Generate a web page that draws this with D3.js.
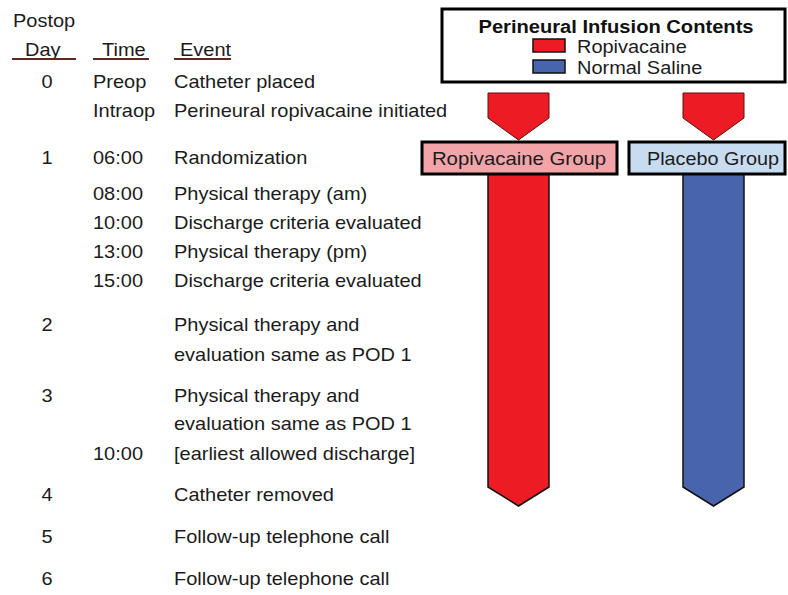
<!DOCTYPE html>
<html>
<head>
<meta charset="utf-8">
<script src="https://cdn.jsdelivr.net/npm/d3@7/dist/d3.min.js"></script>
<style>
  html, body { margin: 0; padding: 0; background: #fff; }
  text { font-family: "Liberation Sans", Arial, sans-serif; }
</style>
</head>
<body>
<svg id="chart" width="788" height="595"></svg>
<script>
// ---------------- DATA ----------------
const headerLabels = ["Day", "Time", "Event"];
const headerTop = "Postop";
const dayLabels   = ["0", "", "1", "", "", "", "", "2", "", "3", "", "", "4", "5", "6"];
const timeLabels  = ["Preop", "Intraop", "06:00", "08:00", "10:00", "13:00", "15:00", "", "", "", "", "10:00", "", "", ""];
const eventLabels = [
  "Catheter placed",
  "Perineural ropivacaine initiated",
  "Randomization",
  "Physical therapy (am)",
  "Discharge criteria evaluated",
  "Physical therapy (pm)",
  "Discharge criteria evaluated",
  "Physical therapy and",
  "evaluation same as POD 1",
  "Physical therapy and",
  "evaluation same as POD 1",
  "[earliest allowed discharge]",
  "Catheter removed",
  "Follow-up telephone call",
  "Follow-up telephone call"
];
const groupLabels = ["Ropivacaine Group", "Placebo Group"];
const legendTitle = "Perineural Infusion Contents";
const legendLabels = ["Ropivacaine", "Normal Saline"];
const preContents = ["Ropivacaine", "Ropivacaine"];     // before randomization
const postContents = ["Ropivacaine", "Normal Saline"];  // after randomization

// ---------------- LAYOUT / STYLE ----------------
const W = 788, H = 595;
const rowBaselines = [88, 117, 164, 200, 229, 258, 287, 331, 361, 402, 430, 460, 501, 543, 585];
const yRow = d3.scaleOrdinal().domain(d3.range(eventLabels.length)).range(rowBaselines);
const colX = { day: 47, time: 93, event: 174 };
const textColor = "#1b1b1b";
const fontSize = 18.5;
const bodyStretch = 1.08;

function stretch(sel, k) {
  sel.each(function () {
    const l = this.getComputedTextLength();
    d3.select(this).attr("textLength", l * k).attr("lengthAdjust", "spacingAndGlyphs");
  });
}

const contentColor = d3.scaleOrdinal().domain(legendLabels).range(["#ed1c24", "#4864ad"]);
const groupFill = d3.scaleOrdinal().domain(groupLabels).range(["#f3a4a8", "#c7dcf0"]);

const svg = d3.select("#chart");

// header
svg.append("text").attr("x", 13).attr("y", 27).attr("font-size", fontSize)
  .attr("fill", textColor).text(headerTop).call(stretch, bodyStretch);
const headers = [
  { label: headerLabels[0], tx: 25, x1: 12, x2: 76 },
  { label: headerLabels[1], tx: 102, x1: 93, x2: 149 },
  { label: headerLabels[2], tx: 180, x1: 174, x2: 231 }
];
const hg = svg.append("g");
hg.selectAll("text").data(headers).join("text")
  .attr("x", d => d.tx).attr("y", 56).attr("font-size", fontSize)
  .attr("fill", textColor).text(d => d.label).call(stretch, bodyStretch);
hg.selectAll("line").data(headers).join("line")
  .attr("x1", d => d.x1).attr("x2", d => d.x2).attr("y1", 59).attr("y2", 59)
  .attr("stroke", "#5e2a20").attr("stroke-width", 2);

// rows
const rows = eventLabels.map((e, i) => ({ i, day: dayLabels[i], time: timeLabels[i], event: e }));
const rg = svg.append("g").attr("font-size", fontSize).attr("fill", textColor);
rg.selectAll("text.day").data(rows.filter(r => r.day)).join("text").attr("class", "day")
  .attr("x", colX.day).attr("y", d => yRow(d.i)).attr("text-anchor", "middle").text(d => d.day)
  .call(stretch, bodyStretch);
rg.selectAll("text.time").data(rows.filter(r => r.time)).join("text").attr("class", "time")
  .attr("x", colX.time).attr("y", d => yRow(d.i)).text(d => d.time).call(stretch, bodyStretch);
rg.selectAll("text.event").data(rows).join("text").attr("class", "event")
  .attr("x", colX.event).attr("y", d => yRow(d.i)).text(d => d.event).call(stretch, bodyStretch);

// legend
const lg = svg.append("g");
lg.append("rect").attr("x", 442).attr("y", 9).attr("width", 343).attr("height", 73)
  .attr("fill", "#fff").attr("stroke", "#000").attr("stroke-width", 3);
lg.append("text").attr("x", 616).attr("y", 32.5).attr("text-anchor", "middle")
  .attr("font-size", 17.5).attr("font-weight", "bold").attr("fill", "#111").text(legendTitle)
  .call(stretch, 1.15);
const legItems = lg.selectAll("g.item").data(legendLabels).join("g").attr("class", "item")
  .attr("transform", (d, i) => `translate(533, ${39 + i * 21})`);
legItems.append("rect").attr("width", 32).attr("height", 13)
  .attr("fill", d => contentColor(d)).attr("stroke", "#111").attr("stroke-width", 1.5);
legItems.append("text").attr("x", 44).attr("y", 14).attr("font-size", 17.5)
  .attr("fill", textColor).text(d => d).call(stretch, 1.14);

// group columns
const groupCenter = d3.scaleOrdinal().domain(groupLabels).range([518.5, 713.5]);
const groupBox = d3.scaleOrdinal().domain(groupLabels).range([[422, 617], [629, 785]]);
const labelCenter = d3.scaleOrdinal().domain(groupLabels).range([519, 713]);
const labelStretch = d3.scaleOrdinal().domain(groupLabels).range([1.1, 1.07]);
const arrowHalf = 30.5;
const boxTop = 142, boxBot = 174;

const arrowTop = (cx) => {
  const p = d3.path();
  p.moveTo(cx - arrowHalf, 93); p.lineTo(cx + arrowHalf, 93);
  p.lineTo(cx + arrowHalf, 118); p.lineTo(cx, 140); p.lineTo(cx - arrowHalf, 118); p.closePath();
  return p.toString();
};
const arrowBottom = (cx) => {
  const p = d3.path();
  p.moveTo(cx - arrowHalf, boxBot); p.lineTo(cx + arrowHalf, boxBot);
  p.lineTo(cx + arrowHalf, 487); p.lineTo(cx, 506); p.lineTo(cx - arrowHalf, 487); p.closePath();
  return p.toString();
};

const gg = svg.append("g");
gg.selectAll("path.top").data(groupLabels).join("path").attr("class", "top")
  .attr("d", d => arrowTop(groupCenter(d)))
  .attr("fill", (d, i) => contentColor(preContents[i])).attr("stroke", "#5a1010").attr("stroke-width", 1);
gg.selectAll("path.bottom").data(groupLabels).join("path").attr("class", "bottom")
  .attr("d", d => arrowBottom(groupCenter(d)))
  .attr("fill", (d, i) => contentColor(postContents[i])).attr("stroke", "#111").attr("stroke-width", 1.5);
gg.selectAll("rect.box").data(groupLabels).join("rect").attr("class", "box")
  .attr("x", d => groupBox(d)[0]).attr("y", boxTop)
  .attr("width", d => groupBox(d)[1] - groupBox(d)[0]).attr("height", boxBot - boxTop)
  .attr("fill", d => groupFill(d)).attr("stroke", "#000").attr("stroke-width", 3);
gg.selectAll("text.glabel").data(groupLabels).join("text").attr("class", "glabel")
  .attr("x", d => labelCenter(d)).attr("y", 165)
  .attr("text-anchor", "middle").attr("font-size", fontSize).attr("fill", textColor).text(d => d)
  .each(function (d) { d3.select(this).call(stretch, labelStretch(d)); });
</script>
</body>
</html>
